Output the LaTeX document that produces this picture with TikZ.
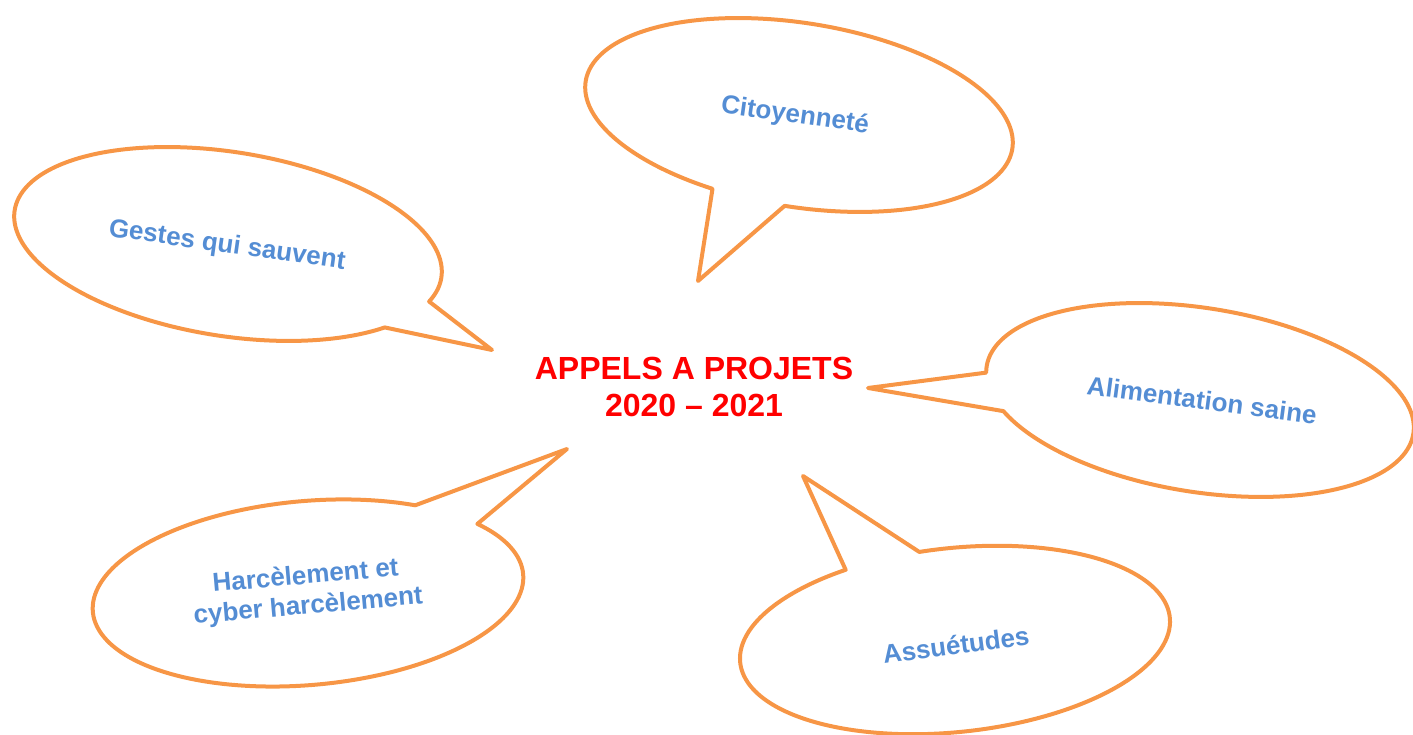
\documentclass[tikz,border=0pt]{standalone}
\usepackage{fontspec}
\setmainfont{Liberation Sans}
\definecolor{bulleorange}{HTML}{F79646}
\definecolor{themebleu}{HTML}{548DD4}
\begin{document}
\begin{tikzpicture}[x=1pt,y=1pt,line join=round,line cap=round,
	bulle/.style={draw=bulleorange,line width=4pt},
	theme/.style={text=themebleu,font=\fontsize{26}{30}\selectfont\bfseries,align=center}]
	\useasboundingbox (0,0) rectangle (1413,735);
	\node[text=red,font=\fontsize{32}{37}\selectfont\bfseries,align=center] (titre) at (694,348) {APPELS A PROJETS\\2020 -- 2021};

	% bulles : nom/centre/rotation/angles debut-fin/pointe
	\foreach \n/\cx/\cy/\r/\s/\e/\tx/\ty in {gestes/228/491/-9/-16/321/492/385,citoyen/799/620/-9/-90/250/698/454,aliment/1200/335/-9/207/544/868/347,harcel/308/142/5/58/396/567/286,assuet/955/95/6/118/457/803/259}
	{
		\coordinate (pointe-\n) at (\tx,\ty);
		\draw[bulle] plot[smooth,samples=150,domain=\s:\e] ({\cx+216*cos(\x)*cos(\r)-92*sin(\x)*sin(\r)},{\cy+216*cos(\x)*sin(\r)+92*sin(\x)*cos(\r)}) -- (pointe-\n) -- cycle;
	}

	\node[theme,rotate=-8] (gestes) at (227,489) {Gestes qui sauvent};
	\node[theme,rotate=-8] (citoyen) at (795,619) {Citoyenneté};
	\node[theme,rotate=-7.5] (aliment) at (1202,335) {Alimentation saine};
	\node[theme,rotate=5] (harcel) at (307,143) {Harcèlement et\\cyber harcèlement};
	\node[theme,rotate=7.5] (assuet) at (956,90) {Assuétudes};
\end{tikzpicture}
\end{document}
